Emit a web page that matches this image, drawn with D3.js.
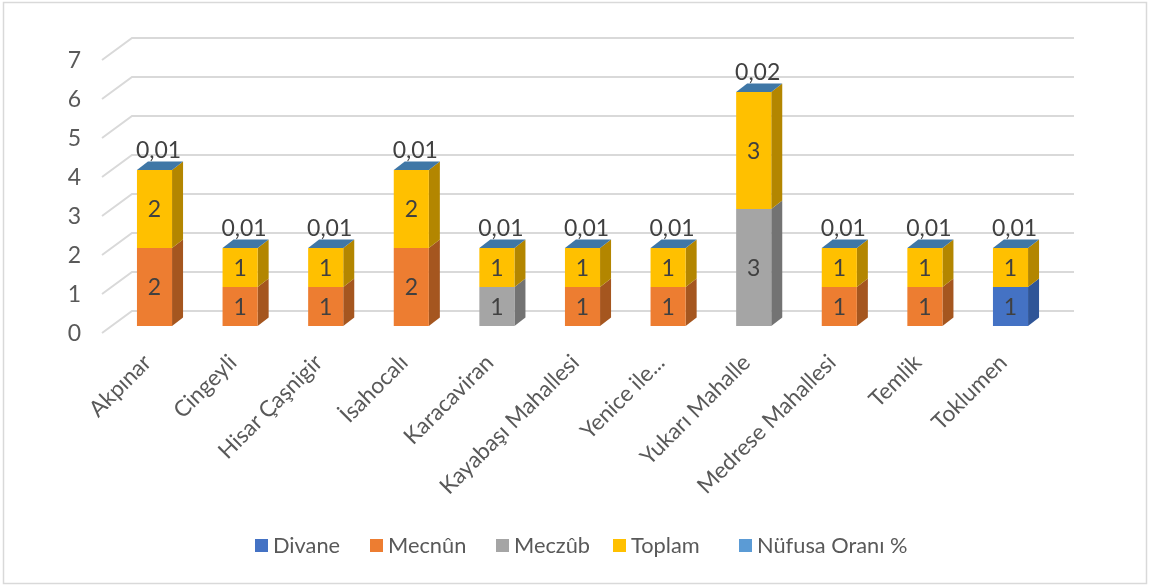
<!DOCTYPE html>
<html><head><meta charset="utf-8">
<script src="https://cdn.jsdelivr.net/npm/d3@7"></script>
<style>html,body{margin:0;padding:0;background:#fff}svg{display:block;filter:blur(0.4px)}text{font-family:Lato,"Open Sans",sans-serif}</style>
</head><body><svg id="c" width="1150" height="587"></svg>
<script>
const categories=["Akpınar","Cingeyli","Hisar Çaşnigir","İsahocalı","Karacaviran","Kayabaşı Mahallesi","Yenice ile...","Yukarı Mahalle","Medrese Mahallesi","Temlik","Toklumen"];
const divane=[0,0,0,0,0,0,0,0,0,0,1];
const mecnun=[2,1,1,2,0,1,1,0,1,1,0];
const meczub=[0,0,0,0,1,0,0,3,0,0,0];
const toplam=[2,1,1,2,1,1,1,3,1,1,1];
const nufusa=[0.01,0.01,0.01,0.01,0.01,0.01,0.01,0.02,0.01,0.01,0.01];
const nufusaLabels=["0,01","0,01","0,01","0,01","0,01","0,01","0,01","0,02","0,01","0,01","0,01"];
const yTicks=[0,1,2,3,4,5,6,7];
const seriesNames=["Divane","Mecnûn","Meczûb","Toplam","Nüfusa Oranı %"];
const seriesValues=[divane,mecnun,meczub,toplam];
const front=["#4472c4","#ed7d31","#a5a5a5","#ffc000"];
const side=["#2f5597","#a5561f","#737373","#b38600"];
const legendColors=["#4472c4","#ed7d31","#a5a5a5","#ffc000","#5b9bd5"];
const capColor="#3f77a6";

const svg=d3.select("#c");
svg.append("rect").attr("x",3.5).attr("y",2.5).attr("width",1143).attr("height",581).attr("fill","#fff").attr("stroke","#d9d9d9").attr("stroke-width",1.5);

const x=d3.scaleBand().domain(categories).range([111.7,1053.3]).paddingInner(0.59).paddingOuter(0.295);
const y=d3.scaleLinear().domain([0,7]).range([326,53]);
const dx=11,dy=-8.5;      // bar depth
const wx=30,wy=-22;       // floor depth of the back wall
const wallLeft=102,wallRight=1074;
const yBase=333;
const yw=d3.scaleLinear().domain([0,7]).range([yBase,60]);

const g=svg.append("g");
yTicks.forEach(t=>{
  g.append("path").attr("fill","none").attr("stroke","#d9d9d9").attr("stroke-width",2)
   .attr("d",d3.line()([[wallLeft,yw(t)],[wallLeft+wx,yw(t)+wy],[wallRight,yw(t)+wy]]));
  g.append("text").attr("x",81).attr("y",yw(t)+7.5).attr("text-anchor","end").attr("font-size",23).attr("fill","#595959").text(t);
});

const line=d3.line();
categories.forEach((c,i)=>{
  const x0=x(c),x1=x0+x.bandwidth();
  let acc=0;
  seriesValues.forEach((vals,s)=>{
    const v=vals[i]; if(!v)return;
    const yb=y(acc),yt=y(acc+v);
    g.append("path").attr("fill",side[s]).attr("d",line([[x1,yb],[x1+dx,yb+dy],[x1+dx,yt+dy],[x1,yt]])+"Z");
    g.append("rect").attr("x",x0).attr("y",yt).attr("width",x.bandwidth()).attr("height",yb-yt).attr("fill",front[s]);
    g.append("text").attr("x",(x0+x1)/2).attr("y",(yb+yt)/2+8).attr("text-anchor","middle").attr("font-size",23).attr("fill","#404040").text(v);
    acc+=v;
  });
  const yt=y(acc);
  g.append("path").attr("fill",capColor).attr("d",line([[x0,yt],[x0+dx,yt+dy],[x1+dx,yt+dy],[x1,yt]])+"Z");
  g.append("text").attr("x",(x0+x1)/2+4).attr("y",yt-12).attr("text-anchor","middle").attr("font-size",23).attr("fill","#404040").text(nufusaLabels[i]);
  g.append("text").attr("transform",`translate(${(x0+x1)/2-2},364) rotate(-45)`).attr("text-anchor","end").attr("font-size",22.5).attr("fill","#595959").text(c);
});

const legendX=[255,370,496,613,739];
seriesNames.forEach((n,i)=>{
  g.append("rect").attr("x",legendX[i]).attr("y",539).attr("width",13).attr("height",13).attr("fill",legendColors[i]);
  g.append("text").attr("x",legendX[i]+18).attr("y",552.5).attr("font-size",21.8).attr("fill","#595959").text(n);
});
</script></body></html>
